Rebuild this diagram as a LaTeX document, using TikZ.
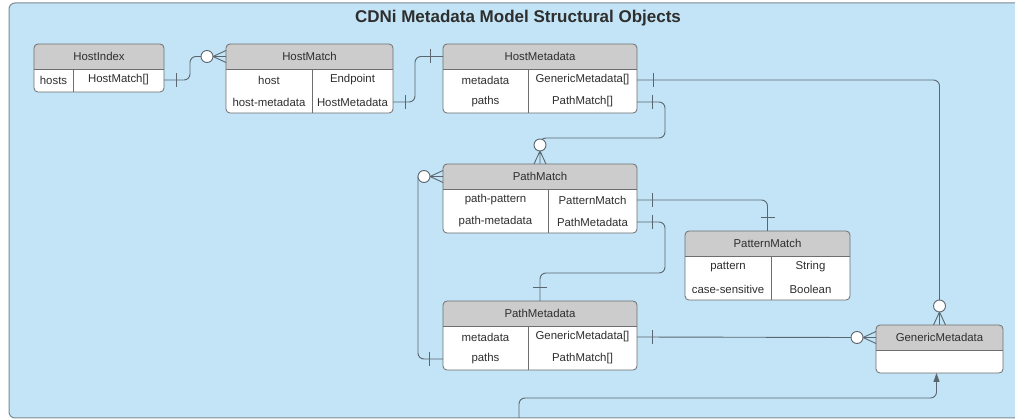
\documentclass[tikz,border=0pt]{standalone}
\usepackage{fontspec}
\setmainfont{Liberation Sans}
\usetikzlibrary{calc,arrows.meta}
\definecolor{bg}{HTML}{C2E4F6}
\definecolor{hdr}{HTML}{CCCCCC}
\definecolor{bline}{HTML}{6E6E6E}
\definecolor{cline}{HTML}{5B6770}
\definecolor{txt}{HTML}{2E2E2E}
\definecolor{frame}{HTML}{7D8A90}

\newcommand\erbox[5]{% name, x, y, w, h
  \node[inner sep=0pt, outer sep=0pt, minimum width=#4pt, minimum height=#5pt, anchor=north west] (#1) at (#2,#3) {};
  \begin{scope}
    \clip[rounded corners=4pt] (#1.north west) rectangle (#1.south east);
    \fill[white] (#1.north west) rectangle (#1.south east);
    \fill[hdr] (#1.north west) rectangle ($(#1.north east)+(0,25)$);
  \end{scope}
  \draw[boxl] ($(#1.north west)+(0,25)$) -- ($(#1.north east)+(0,25)$);
  \draw[boxl, rounded corners=4pt] (#1.north west) rectangle (#1.south east);
}
\newcommand\divider[2]{% box, x
  \draw[boxl] ($(#1.north west -| #2,0)+(0,25)$) -- (#1.south -| #2,0);
}
\newcommand\barV[1]{\draw[lnk] ($(#1)+(0,-7)$) -- ($(#1)+(0,7)$);}
\newcommand\barH[1]{\draw[lnk] ($(#1)+(-7,0)$) -- ($(#1)+(7,0)$);}
\newcommand\crowL[1]{%
  \draw[lnk] ($(#1)+(-13,0)$) -- ($(#1)+(0,-6)$)
             ($(#1)+(-13,0)$) -- (#1)
             ($(#1)+(-13,0)$) -- ($(#1)+(0,6)$);
  \draw[lnk, fill=white] ($(#1)+(-19,0)$) circle (6pt);}
\newcommand\crowT[1]{%
  \draw[lnk] ($(#1)+(0,-13)$) -- ($(#1)+(-6,0)$)
             ($(#1)+(0,-13)$) -- (#1)
             ($(#1)+(0,-13)$) -- ($(#1)+(6,0)$);
  \draw[lnk, fill=white] ($(#1)+(0,-19)$) circle (6pt);}

\begin{document}
\begin{tikzpicture}[x=1pt,y=-1pt,
  font=\fontsize{11.4}{13}\selectfont,
  boxl/.style={draw=bline, line width=0.8pt},
  lnk/.style={draw=cline, line width=0.9pt},
  conn/.style={lnk, rounded corners=6pt},
  cell/.style={text=txt, inner sep=0pt, anchor=center}]
\useasboundingbox (0,0) rectangle (1015,419);
\clip (0,0) rectangle (1015,419);
\draw[draw=frame, fill=bg, rounded corners=6pt, line width=1pt] (9,3) rectangle (1040,418);
\node[cell, font=\fontsize{17}{20}\selectfont\bfseries] (title) at (518,18) {CDNi Metadata Model Structural Objects};

% HostIndex
\erbox{HI}{34}{44}{130}{48}
\divider{HI}{73}
\node[cell] (HIh) at (99,56.5) {HostIndex};
\node[cell] (HIa1) at (53.5,80) {hosts};
\node[cell] (HIb1) at (118.5,80) {HostMatch[]};

% HostMatch
\erbox{HM}{226}{44}{167}{69}
\divider{HM}{312}
\node[cell] (HMh) at (309.5,56.5) {HostMatch};
\node[cell] (HMa1) at (269,80) {host};
\node[cell] (HMb1) at (352.5,80) {Endpoint};
\node[cell] (HMa2) at (269,102) {host-metadata};
\node[cell] (HMb2) at (352.5,102) {HostMetadata};

% HostMetadata
\erbox{HMe}{443}{44}{194}{69}
\divider{HMe}{528}
\node[cell] (HMeh) at (540,56.5) {HostMetadata};
\node[cell] (HMea1) at (485.5,80) {metadata};
\node[cell] (HMeb1) at (582.5,80) {GenericMetadata[]};
\node[cell] (HMea2) at (485.5,102) {paths};
\node[cell] (HMeb2) at (582.5,102) {PathMatch[]};

% PathMatch
\erbox{PM}{443}{164}{194}{69}
\divider{PM}{548}
\node[cell] (PMh) at (540,176.5) {PathMatch};
\node[cell] (PMa1) at (495.5,200) {path-pattern};
\node[cell] (PMb1) at (592.5,200) {PatternMatch};
\node[cell] (PMa2) at (495.5,222) {path-metadata};
\node[cell] (PMb2) at (592.5,222) {PathMetadata};

% PatternMatch
\erbox{PtM}{685}{231}{165}{69}
\divider{PtM}{771}
\node[cell] (PtMh) at (767.5,243.5) {PatternMatch};
\node[cell] (PtMa1) at (728,267) {pattern};
\node[cell] (PtMb1) at (810.5,267) {String};
\node[cell] (PtMa2) at (728,289) {case-sensitive};
\node[cell] (PtMb2) at (810.5,289) {Boolean};

% PathMetadata
\erbox{PMd}{443}{301}{194}{69}
\divider{PMd}{528}
\node[cell] (PMdh) at (540,313.5) {PathMetadata};
\node[cell] (PMda1) at (485.5,337) {metadata};
\node[cell] (PMdb1) at (582.5,337) {GenericMetadata[]};
\node[cell] (PMda2) at (485.5,359) {paths};
\node[cell] (PMdb2) at (582.5,359) {PathMatch[]};

% GenericMetadata
\erbox{GM}{876}{325}{127}{48}
\node[cell] (GMh) at (939.5,337.5) {GenericMetadata};

% ---- connectors ----
% HostIndex.hosts -> HostMatch
\draw[conn] (HIb1 -| HI.east) -- ++(26,0) |- ($(HMh -| HM.west)+(-25,0)$);
\barV{$(HIb1 -| HI.east)+(12,0)$}
\crowL{HMh -| HM.west}

% HostMatch.host-metadata -> HostMetadata
\draw[conn] (HMb2 -| HM.east) -- ++(22,0) |- (HMeh -| HMe.west);
\barV{$(HMb2 -| HM.east)+(12,0)$}
\barV{$(HMeh -| HMe.west)+(-13,0)$}

% HostMetadata.metadata -> GenericMetadata
\draw[conn] (HMeb1 -| HMe.east) -| ($(GM.north)+(0,-25)$);
\barV{$(HMeb1 -| HMe.east)+(16,0)$}
\crowT{GM.north}

% HostMetadata.paths -> PathMatch
\draw[conn] (HMeb2 -| HMe.east) -- ++(28,0) |- ($(PM.north)+(0,-26)$) -- ($(PM.north)+(0,-19)$);
\barV{$(HMeb2 -| HMe.east)+(15,0)$}
\crowT{PM.north}

% PathMatch.path-pattern -> PatternMatch
\draw[conn] (PMb1 -| PM.east) -| (PtM.north);
\barV{$(PMb1 -| PM.east)+(15,0)$}
\barH{$(PtM.north)+(0,-14)$}

% PathMatch.path-metadata -> PathMetadata
\draw[conn] (PMb2 -| PM.east) -- ++(28,0) |- ($(PMd.north)+(0,-28)$) -- (PMd.north);
\barV{$(PMb2 -| PM.east)+(15,0)$}
\barH{$(PMd.north)+(0,-14)$}

% PathMetadata.metadata -> GenericMetadata
\draw[conn] (PMdb1 -| PMd.east) -- ($(GMh -| GM.west)+(-25,0)$);
\barV{$(PMdb1 -| PMd.east)+(15,0)$}
\crowL{GMh -| GM.west}

% PathMetadata.paths -> PathMatch
\draw[conn] ($(PMh -| PM.west)+(-25,0)$) |- (PMda2 -| PMd.west);
\barV{$(PMda2 -| PMd.west)+(-14,0)$}
\crowL{PMh -| PM.west}

% incoming from below -> GenericMetadata
\coordinate (src) at (519,418);
\draw[conn, -{Triangle[length=9pt,width=6pt]}, fill=none] (src) |- ($([xshift=-3pt]GM.south)+(0,25)$) -- ([xshift=-3pt]GM.south);
\end{tikzpicture}
\end{document}
